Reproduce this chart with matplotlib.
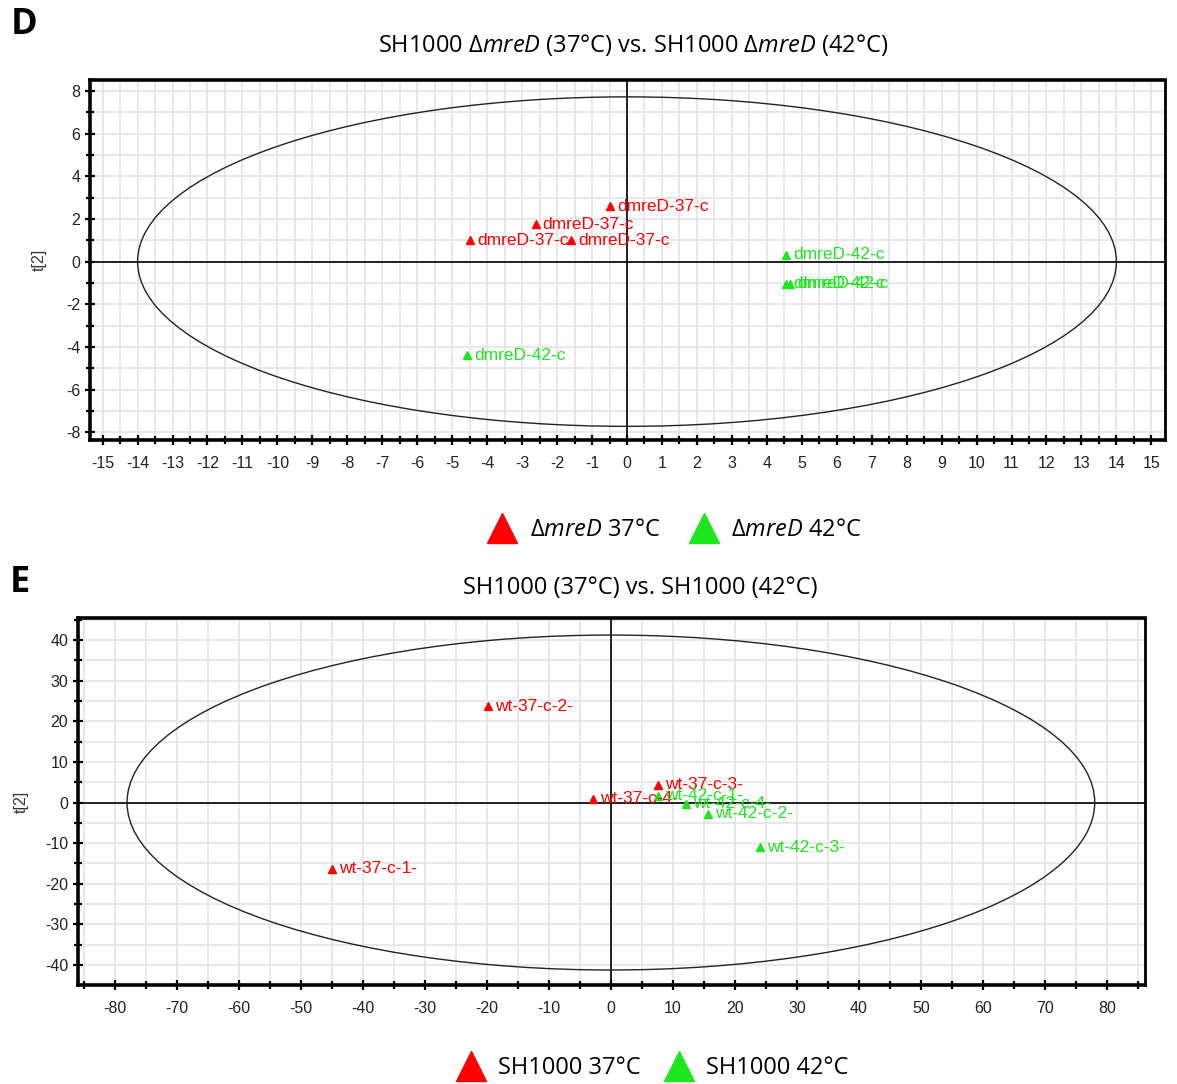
import matplotlib.pyplot as plt
from matplotlib.patches import Ellipse
from matplotlib.lines import Line2D
from matplotlib.ticker import MultipleLocator

plt.rcParams['mathtext.fontset'] = 'custom'
plt.rcParams['mathtext.rm'] = 'Open Sans'
plt.rcParams['mathtext.it'] = 'Open Sans:italic'
plt.rcParams['axes.unicode_minus'] = False

RED = '#ff0000'
GREEN = '#1ee61e'

# panel D: dmreD 37 vs 42
d_red_x = [-0.48, -2.61, -4.48, -1.6]
d_red_y = [2.6, 1.74, 1.01, 1.01]
d_red_lab = ['dmreD-37-c', 'dmreD-37-c', 'dmreD-37-c', 'dmreD-37-c']
d_green_x = [4.55, 4.55, 4.66, -4.58]
d_green_y = [0.31, -1.04, -1.04, -4.39]
d_green_lab = ['dmreD-42-c', 'dmreD-42-c', 'dmreD-42-c', 'dmreD-42-c']
d_ellipse = (14.0, 7.72)

# panel E: wild type 37 vs 42
e_red_x = [-19.8, -45.0, -2.9, 7.6]
e_red_y = [23.7, -16.3, 0.9, 4.4]
e_red_lab = ['wt-37-c-2-', 'wt-37-c-1-', 'wt-37-c-4-', 'wt-37-c-3-']
e_green_x = [7.6, 12.1, 15.7, 24.1]
e_green_y = [1.7, -0.3, -2.8, -11.0]
e_green_lab = ['wt-42-c-1-', 'wt-42-c-4-', 'wt-42-c-2-', 'wt-42-c-3-']
e_ellipse = (78.0, 41.2)

fig = plt.figure(figsize=(11.77, 10.84), dpi=100)
axD = fig.add_axes([0.0765, 0.5941, 0.9133, 0.3321])
axE = fig.add_axes([0.0663, 0.0913, 0.9065, 0.3386])


def score_plot(ax, rx, ry, rl, gx, gy, gl, ell, xlim, ylim, xmaj, xmin, ymaj, ymin):
    ax.set_xlim(*xlim)
    ax.set_ylim(*ylim)
    ax.xaxis.set_major_locator(MultipleLocator(xmaj))
    ax.xaxis.set_minor_locator(MultipleLocator(xmin))
    ax.yaxis.set_major_locator(MultipleLocator(ymaj))
    ax.yaxis.set_minor_locator(MultipleLocator(ymin))
    ax.grid(which='both', color='#e6e6e6', lw=1.3, zorder=0)
    ax.set_axisbelow(True)
    ax.axhline(0, color='black', lw=1.2, zorder=1)
    ax.axvline(0, color='black', lw=1.2, zorder=1)
    ax.add_patch(Ellipse((0, 0), 2 * ell[0], 2 * ell[1], fill=False,
                         ec='#222222', lw=1.0, zorder=2))
    for xs, ys, ls, c in [(rx, ry, rl, RED), (gx, gy, gl, GREEN)]:
        ax.plot(xs, ys, '^', color=c, ms=6, zorder=3)
        for x, y, t in zip(xs, ys, ls):
            ax.annotate(t, (x, y), xytext=(5, 0), textcoords='offset points',
                        va='center', ha='left', color=c, fontsize=12.5,
                        family='Liberation Sans', zorder=4)
    for s in ['left', 'bottom', 'top']:
        ax.spines[s].set_linewidth(2.6)
    ax.spines['right'].set_linewidth(2.0)
    ax.tick_params(which='both', direction='inout', width=1.6,
                   labelsize=11.5, top=False, right=False)
    ax.tick_params(which='major', length=7)
    ax.tick_params(which='minor', length=6)
    for lab in ax.get_xticklabels() + ax.get_yticklabels():
        lab.set_family('Liberation Sans')
        lab.set_color('#222222')
    ax.tick_params(axis='x', pad=8)


score_plot(axD, d_red_x, d_red_y, d_red_lab, d_green_x, d_green_y, d_green_lab,
           d_ellipse, (-15.36, 15.39), (-8.36, 8.51), 1, 0.5, 2, 1)
score_plot(axE, e_red_x, e_red_y, e_red_lab, e_green_x, e_green_y, e_green_lab,
           e_ellipse, (-85.9, 86.1), (-44.9, 45.4), 10, 5, 10, 5)

axD.set_ylabel('t[2]', fontsize=11.5, family='Liberation Sans', labelpad=14,
               color='#333333')
axE.set_ylabel('t[2]', fontsize=11.5, family='Liberation Sans', labelpad=12,
               color='#333333')

fig.text(0.538, 0.9585, r'SH1000 Δ$mreD$ (37°C) vs. SH1000 Δ$mreD$ (42°C)',
         ha='center', va='center', fontsize=17, family='Open Sans')
fig.text(0.544, 0.4576, 'SH1000 (37°C) vs. SH1000 (42°C)',
         ha='center', va='center', fontsize=17, family='Open Sans')
fig.text(0.009, 0.977, 'D', fontsize=26, fontweight='bold', family='Open Sans',
         va='center')
fig.text(0.008, 0.462, 'E', fontsize=26, fontweight='bold', family='Open Sans',
         va='center')

def tri(c):
    return Line2D([], [], marker='^', color=c, ls='none', ms=22)

fig.legend([tri(RED), tri(GREEN)], [r'Δ$mreD$ 37°C', r'Δ$mreD$ 42°C'],
           loc='center', bbox_to_anchor=(0.572, 0.511), ncol=2, frameon=False,
           prop={'family': 'Open Sans', 'size': 17}, handletextpad=0.4,
           columnspacing=1.1, handlelength=1.5)
fig.legend([tri(RED), tri(GREEN)], ['SH1000 37°C', 'SH1000 42°C'],
           loc='center', bbox_to_anchor=(0.553, 0.0148), ncol=2, frameon=False,
           prop={'family': 'Open Sans', 'size': 17}, handletextpad=0.4,
           columnspacing=0.9, handlelength=1.5)

fig.savefig('out.png', dpi=100)
